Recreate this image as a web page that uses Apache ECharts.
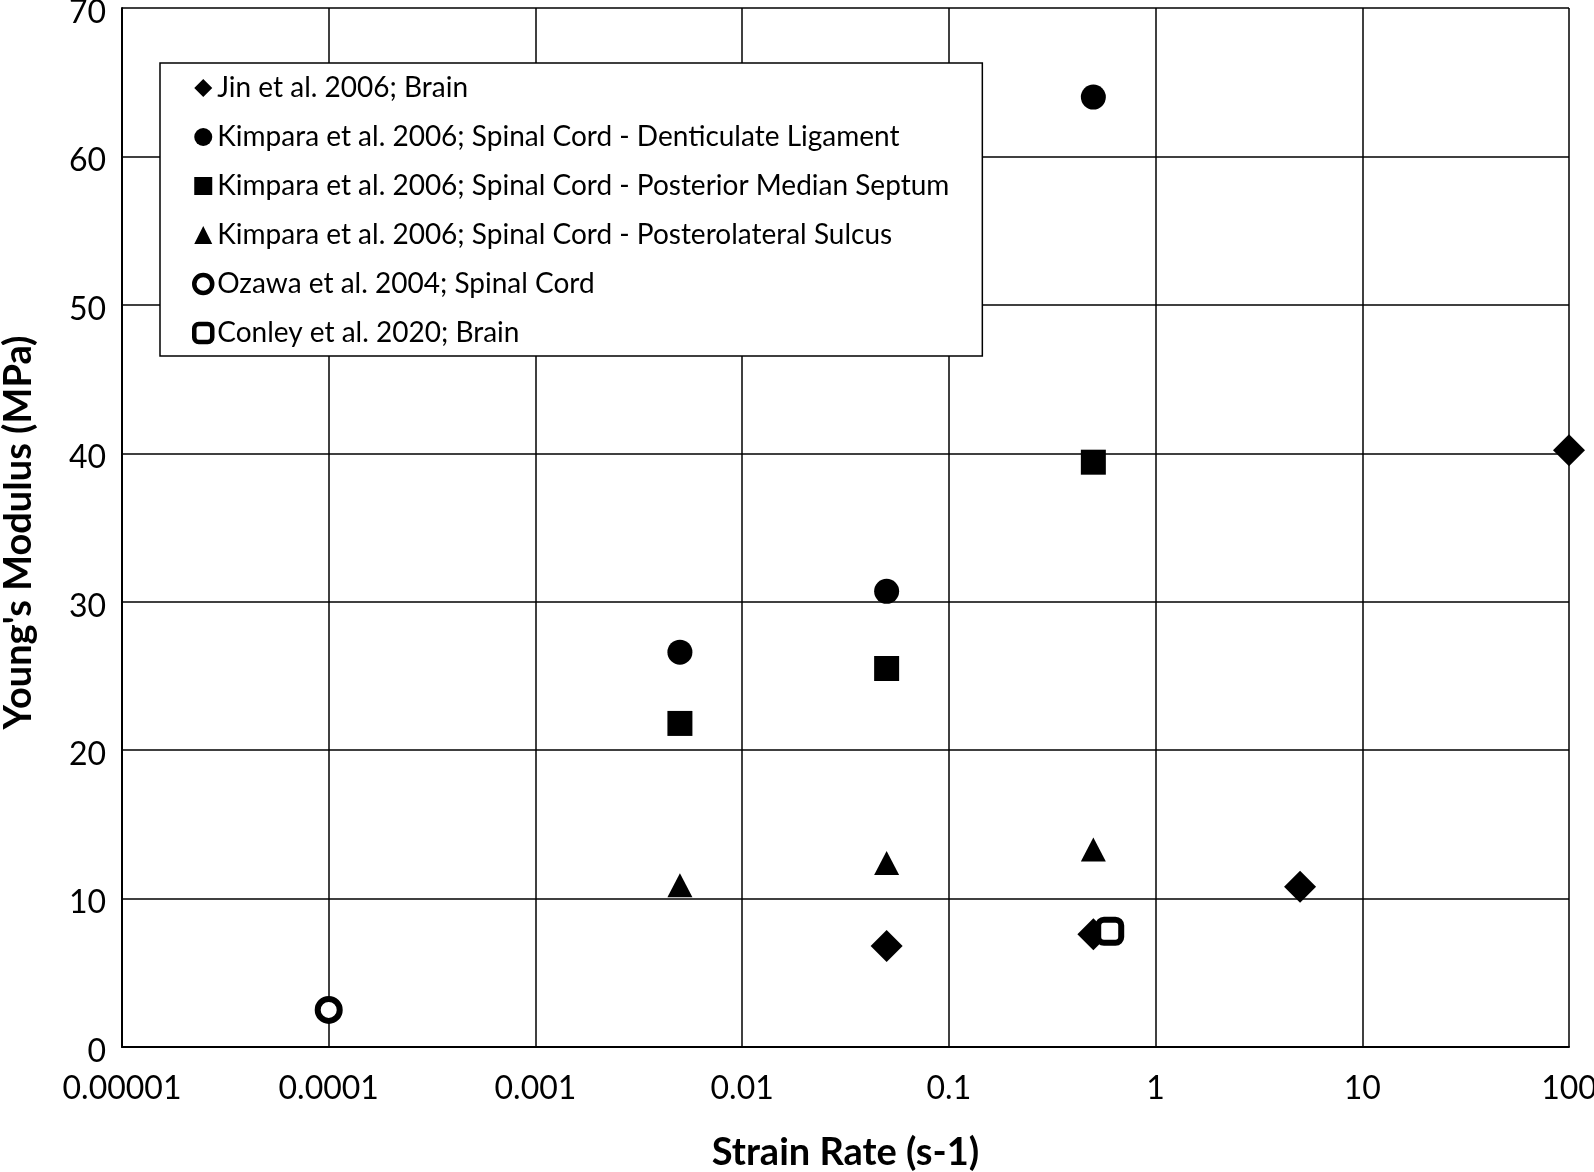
<!DOCTYPE html>
<html>
<head>
<meta charset="utf-8">
<script src="https://cdn.jsdelivr.net/npm/echarts@6/dist/echarts.min.js"></script>
<style>html,body{margin:0;padding:0;background:#fff;}#c{width:1594px;height:1172px;}</style>
</head>
<body>
<div id="c"></div>
<script>
var seriesNames = [
  'Jin et al. 2006; Brain',
  'Kimpara et al. 2006; Spinal Cord - Denticulate Ligament',
  'Kimpara et al. 2006; Spinal Cord - Posterior Median Septum',
  'Kimpara et al. 2006; Spinal Cord - Posterolateral Sulcus',
  'Ozawa et al. 2004; Spinal Cord',
  'Conley et al. 2020; Brain'
];
var jinBrain = [[0.05, 6.8], [0.5, 7.6], [5, 10.8], [100, 40.2]];
var kimparaDL = [[0.005, 26.6], [0.05, 30.7], [0.5, 64.0]];
var kimparaPMS = [[0.005, 21.8], [0.05, 25.5], [0.5, 39.4]];
var kimparaPLS = [[0.005, 10.9], [0.05, 12.4], [0.5, 13.3]];
var ozawaSC = [[0.0001, 2.5]];
var conleyBrain = [[0.6, 7.8]];
var xTickLabels = ['0.00001', '0.0001', '0.001', '0.01', '0.1', '1', '10', '100'];

var FONT = 'Lato';
var chart = echarts.init(document.getElementById('c'));
function sc(name, data, symbol, size, style) {
  return {
    name: name, type: 'scatter', data: data, symbol: symbol, symbolSize: size,
    itemStyle: style, emphasis: {disabled: true}, z: 5
  };
}
var solid = {color: '#000', borderWidth: 0, opacity: 1};
var option = {
  animation: false,
  backgroundColor: '#fff',
  grid: {left: 122, right: 25, top: 8, bottom: 125, containLabel: false, outerBoundsMode: 'none'},
  legend: {
    orient: 'vertical', left: 160, top: 63,
    backgroundColor: '#fff', borderColor: '#000', borderWidth: 1.5,
    padding: [11, 33, 9, 32],
    itemWidth: 18, itemHeight: 18, itemGap: 21,
    textStyle: {fontFamily: FONT, fontSize: 28, color: '#000', lineHeight: 28, padding: [0, 0, 0, 0]},
    data: [
      {name: seriesNames[0], icon: 'diamond', itemStyle: {color: '#000', borderWidth: 0, opacity: 1}},
      {name: seriesNames[1], icon: 'circle', itemStyle: {color: '#000', borderWidth: 0, opacity: 1}},
      {name: seriesNames[2], icon: 'rect', itemStyle: {color: '#000', borderWidth: 0, opacity: 1}},
      {name: seriesNames[3], icon: 'triangle', itemStyle: {color: '#000', borderWidth: 0, opacity: 1}},
      {name: seriesNames[4], icon: 'circle', itemStyle: {color: '#fff', borderColor: '#000', borderWidth: 4.5, opacity: 1}},
      {name: seriesNames[5], icon: 'roundRect', itemStyle: {color: '#fff', borderColor: '#000', borderWidth: 4.5, opacity: 1}}
    ]
  },
  xAxis: {
    type: 'log', logBase: 10, min: 0.00001, max: 100,
    name: 'Strain Rate (s-1)', nameLocation: 'middle', nameGap: 87,
    nameTextStyle: {fontFamily: FONT, fontSize: 38, fontWeight: 'bold', color: '#000'},
    axisLine: {show: true, lineStyle: {color: '#000', width: 2}},
    axisTick: {show: false},
    splitLine: {show: true, lineStyle: {color: '#000', width: 1.5}},
    minorTick: {show: false}, minorSplitLine: {show: false},
    axisLabel: {
      fontFamily: FONT, fontSize: 32, color: '#000', margin: 26,
      formatter: function (v) {
        var i = Math.round(Math.log10(v)) + 5;
        return xTickLabels[i] !== undefined ? xTickLabels[i] : '';
      }
    }
  },
  yAxis: {
    type: 'value', min: 0, max: 70, interval: 10,
    name: "Young's Modulus (MPa)", nameLocation: 'middle', nameGap: 84,
    nameTextStyle: {fontFamily: FONT, fontSize: 38, fontWeight: 'bold', color: '#000', padding: [0, 10, 0, 0]},
    axisLine: {show: true, lineStyle: {color: '#000', width: 2}},
    axisTick: {show: false},
    splitLine: {show: true, lineStyle: {color: '#000', width: 1.5}},
    axisLabel: {fontFamily: FONT, fontSize: 32, color: '#000', margin: 16, verticalAlign: 'top', lineHeight: 9}
  },
  series: [
    sc(seriesNames[0], jinBrain, 'diamond', [32, 32], solid),
    sc(seriesNames[1], kimparaDL, 'circle', 25, solid),
    sc(seriesNames[2], kimparaPMS, 'rect', 25, solid),
    sc(seriesNames[3], kimparaPLS, 'triangle', [25, 24], solid),
    sc(seriesNames[4], ozawaSC, 'circle', 22, {color: '#fff', borderColor: '#000', borderWidth: 6, opacity: 1}),
    sc(seriesNames[5], conleyBrain, 'roundRect', 23, {color: '#fff', borderColor: '#000', borderWidth: 6, opacity: 1})
  ]
};
chart.setOption(option);
</script>
</body>
</html>
